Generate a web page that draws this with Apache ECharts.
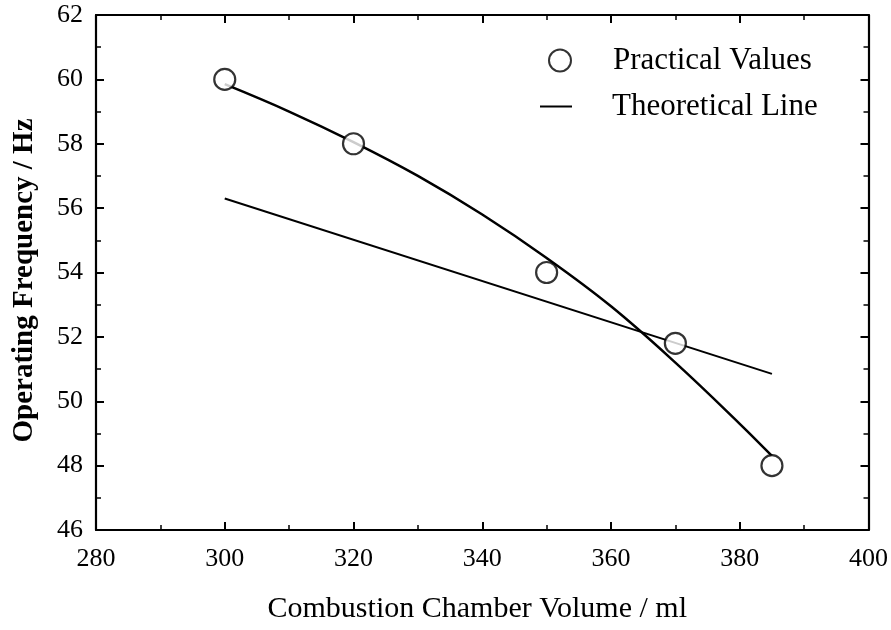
<!DOCTYPE html>
<html>
<head>
<meta charset="utf-8">
<script src="https://cdn.jsdelivr.net/npm/echarts@6/dist/echarts.min.js"></script>
<style>
  html, body { margin: 0; padding: 0; background: #fff; }
  #chart { width: 891px; height: 630px; }
</style>
</head>
<body>
<div id="chart"></div>
<script>
// measured points
var practicalX = [300, 320, 350, 370, 385];
var practicalY = [60, 58, 54, 51.8, 48];
// fitted curve
var curveX = [300, 310, 320, 330, 340, 350, 360, 370, 380, 385];
var curveY = [59.85, 59.0, 58.05, 57.0, 55.8, 54.45, 52.95, 51.2, 49.3, 48.3];
// theoretical straight line
var theoryX = [300, 385];
var theoryY = [56.3, 50.85];
var xTicks = [280, 300, 320, 340, 360, 380, 400];
var yTicks = [46, 48, 50, 52, 54, 56, 58, 60, 62];

function pairs(xs, ys) {
    var out = [];
    for (var i = 0; i < xs.length; i++) out.push([xs[i], ys[i]]);
    return out;
}

var font = '"Liberation Serif", "Times New Roman", serif';
var myChart = echarts.init(document.getElementById('chart'));

function axisBase(min, max, interval) {
    return {
        type: 'value',
        min: min,
        max: max,
        interval: interval,
        axisLine: { show: true, lineStyle: { color: '#000', width: 2.2 } },
        axisTick: { show: true, inside: true, length: 8, lineStyle: { color: '#000', width: 2 } },
        minorTick: { show: true, splitNumber: 2, length: 5, lineStyle: { color: '#000', width: 1.5 } },
        splitLine: { show: false },
        minorSplitLine: { show: false }
    };
}

var xBottom = axisBase(xTicks[0], xTicks[xTicks.length - 1], 20);
xBottom.position = 'bottom';
xBottom.axisLabel = { color: '#000', fontFamily: font, fontSize: 26, margin: 16 };
xBottom.name = 'Combustion Chamber Volume / ml';
xBottom.nameLocation = 'middle';
xBottom.nameGap = 64;
xBottom.nameTextStyle = { color: '#000', fontFamily: font, fontSize: 30, padding: [0, 10, 0, 0] };

var xTop = axisBase(xTicks[0], xTicks[xTicks.length - 1], 20);
xTop.position = 'top';
xTop.axisLabel = { show: false };

var yLeft = axisBase(yTicks[0], yTicks[yTicks.length - 1], 2);
yLeft.position = 'left';
yLeft.axisLabel = { color: '#000', fontFamily: font, fontSize: 26, margin: 13 };
yLeft.name = 'Operating Frequency / Hz';
yLeft.nameLocation = 'middle';
yLeft.nameGap = 57;
yLeft.nameTextStyle = { color: '#000', fontFamily: font, fontSize: 29, fontWeight: 'bold', padding: [0, 16, 0, 0] };

var yRight = axisBase(yTicks[0], yTicks[yTicks.length - 1], 2);
yRight.position = 'right';
yRight.axisLabel = { show: false };

var option = {
    backgroundColor: '#fff',
    animation: false,
    grid: { left: 96, right: 21, top: 15, bottom: 100, containLabel: false },
    legend: [{
        data: ['Practical Values'],
        left: 548,
        top: 39,
        padding: 0,
        icon: 'circle',
        itemWidth: 22,
        itemHeight: 22,
        itemStyle: { color: '#fff', borderColor: '#000', borderWidth: 2 },
        textStyle: { color: '#000', fontFamily: font, fontSize: 31, lineHeight: 31, padding: [0, 0, 12, 37] }
    }, {
        data: ['Theoretical Line'],
        left: 540,
        top: 91,
        padding: 0,
        icon: 'rect',
        itemWidth: 32,
        itemHeight: 2,
        itemStyle: { color: '#000', borderWidth: 0 },
        textStyle: { color: '#000', fontFamily: font, fontSize: 31, lineHeight: 31, padding: [0, 0, 0, 35] }
    }],
    xAxis: [xBottom, xTop],
    yAxis: [yLeft, yRight],
    series: [{
        name: 'Fitted Curve',
        type: 'line',
        data: pairs(curveX, curveY),
        smooth: 0.4,
        showSymbol: false,
        symbol: 'none',
        lineStyle: { color: '#000', width: 2.5 },
        z: 2
    }, {
        name: 'Theoretical Line',
        type: 'line',
        data: pairs(theoryX, theoryY),
        showSymbol: false,
        symbol: 'none',
        lineStyle: { color: '#000', width: 2 },
        z: 2
    }, {
        name: 'Practical Values',
        type: 'scatter',
        data: pairs(practicalX, practicalY),
        symbol: 'circle',
        symbolSize: 21,
        itemStyle: { color: '#fff', borderColor: '#000', borderWidth: 2.2 },
        z: 5
    }]
};
myChart.setOption(option);
</script>
</body>
</html>
